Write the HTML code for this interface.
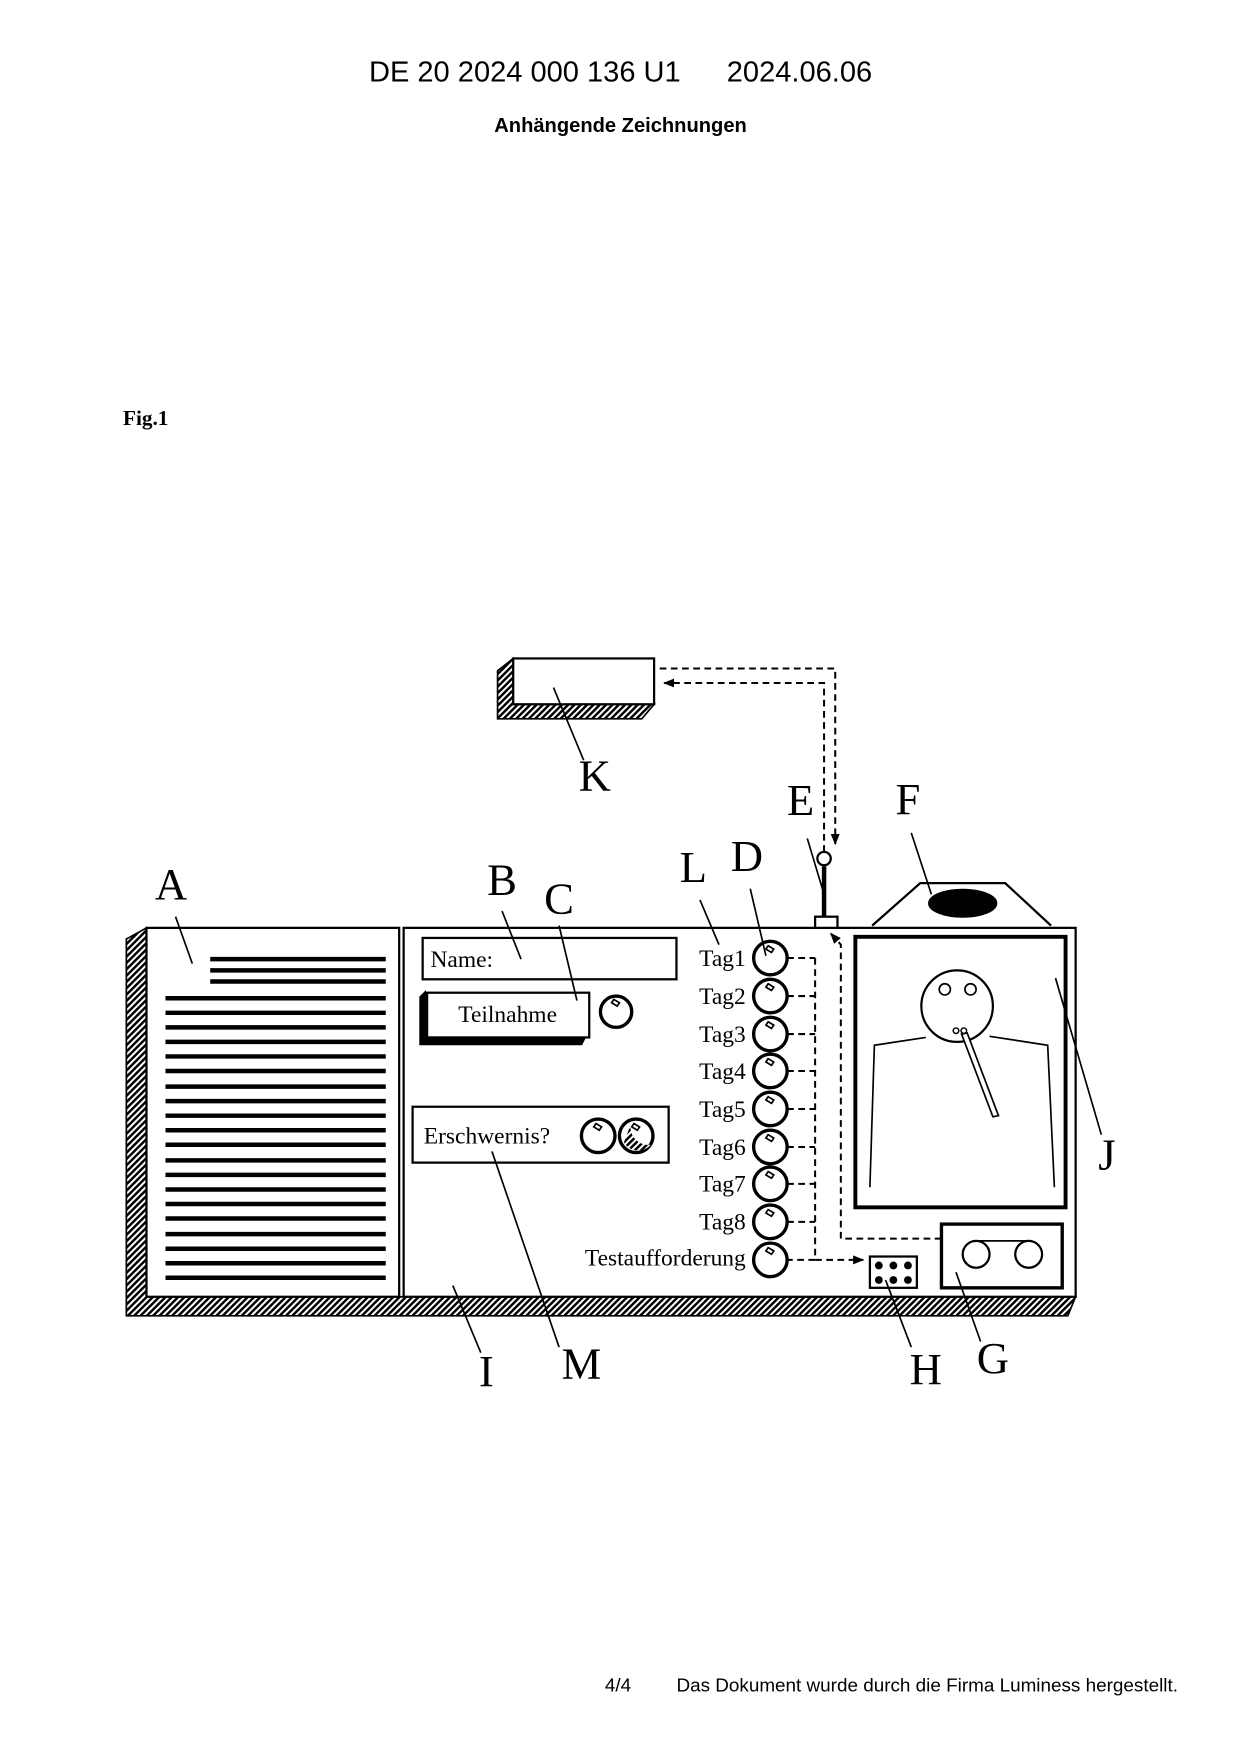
<!DOCTYPE html>
<html><head><meta charset="utf-8"><style>
html,body{margin:0;padding:0;background:#fff;width:1240px;height:1754px;overflow:hidden}
svg{display:block}
.s{font-family:"Liberation Serif",serif}
.a{font-family:"Liberation Sans",sans-serif}
</style></head><body>
<svg width="1240" height="1754" viewBox="0 0 1109 1569" preserveAspectRatio="none" xmlns="http://www.w3.org/2000/svg">
<defs>
<pattern id="h" width="4" height="4" patternUnits="userSpaceOnUse" patternTransform="rotate(45)">
<rect width="4" height="4" fill="#fff"/><rect width="2.2" height="4" fill="#000"/></pattern>
<marker id="ar" markerWidth="10" markerHeight="10" refX="9" refY="5" orient="auto" markerUnits="userSpaceOnUse"><path d="M0,1 L10,5 L0,9 Z" fill="#000"/></marker>
<g id="k"><path d="M-2,-11 L3,-8 L1,-5 L-4,-8 Z" fill="#fff" stroke="#000" stroke-width="1.5"/></g>
</defs>
<text x="330" y="73" class="a" font-size="26">DE 20 2024 000 136 U1</text>
<text x="650" y="73" class="a" font-size="26">2024.06.06</text>
<text x="555" y="118" text-anchor="middle" class="a" font-size="18" font-weight="bold">Anhängende Zeichnungen</text>
<text x="110" y="380" class="s" font-size="19" font-weight="bold">Fig.1</text>
<text x="541" y="1513" class="a" font-size="16.9">4/4</text>
<text x="605" y="1513" class="a" font-size="16.9">Das Dokument wurde durch die Firma Luminess hergestellt.</text>

<g stroke="#000" fill="none" stroke-width="2">
<polygon points="113,840 131,830 131,1160 962,1160 955,1177 113,1177" fill="url(#h)" stroke-width="1.5"/>
<rect x="131" y="830" width="226" height="330" fill="#fff"/>
<rect x="361" y="830" width="601" height="330" fill="#fff"/>
<g stroke-width="4">
<line x1="188" y1="858" x2="345" y2="858"/><line x1="188" y1="868" x2="345" y2="868"/><line x1="188" y1="878" x2="345" y2="878"/>
<line x1="148" y1="893" x2="345" y2="893"/><line x1="148" y1="906" x2="345" y2="906"/><line x1="148" y1="919" x2="345" y2="919"/><line x1="148" y1="932" x2="345" y2="932"/><line x1="148" y1="945" x2="345" y2="945"/><line x1="148" y1="958" x2="345" y2="958"/><line x1="148" y1="972" x2="345" y2="972"/><line x1="148" y1="985" x2="345" y2="985"/><line x1="148" y1="998" x2="345" y2="998"/><line x1="148" y1="1011" x2="345" y2="1011"/><line x1="148" y1="1024" x2="345" y2="1024"/><line x1="148" y1="1038" x2="345" y2="1038"/><line x1="148" y1="1051" x2="345" y2="1051"/><line x1="148" y1="1064" x2="345" y2="1064"/><line x1="148" y1="1077" x2="345" y2="1077"/><line x1="148" y1="1090" x2="345" y2="1090"/><line x1="148" y1="1104" x2="345" y2="1104"/><line x1="148" y1="1117" x2="345" y2="1117"/><line x1="148" y1="1130" x2="345" y2="1130"/><line x1="148" y1="1143" x2="345" y2="1143"/>
</g>
<rect x="378" y="839" width="227" height="37"/>
<polygon points="376,892 380,888 380,928 523,928 520,934 376,934" fill="#000"/>
<rect x="382" y="888" width="145" height="40" fill="#fff"/>
<circle cx="551" cy="905" r="14" stroke-width="3"/>
<use href="#k" x="551" y="905"/>
<rect x="369" y="990" width="229" height="50"/>
<circle cx="535" cy="1016" r="15" stroke-width="3"/>
<circle cx="569" cy="1016" r="15" stroke-width="3"/>
<path d="M558,1022 A15,15 0 0,0 582,1024 A16,16 0 0,1 564,1006 Z" fill="url(#h)" stroke="none"/>
<use href="#k" x="535" y="1016"/><use href="#k" x="569" y="1016"/>
<g stroke-width="3">
<circle cx="689" cy="857" r="15"/><circle cx="689" cy="891" r="15"/><circle cx="689" cy="925" r="15"/><circle cx="689" cy="958" r="15"/><circle cx="689" cy="992" r="15"/><circle cx="689" cy="1026" r="15"/><circle cx="689" cy="1059" r="15"/><circle cx="689" cy="1093" r="15"/><circle cx="689" cy="1127" r="15"/>
</g>
<use href="#k" x="689" y="857"/><use href="#k" x="689" y="891"/><use href="#k" x="689" y="925"/><use href="#k" x="689" y="958"/><use href="#k" x="689" y="992"/><use href="#k" x="689" y="1026"/><use href="#k" x="689" y="1059"/><use href="#k" x="689" y="1093"/><use href="#k" x="689" y="1127"/>
<g stroke-dasharray="6,4" stroke-width="1.8">
<line x1="704" y1="857" x2="729" y2="857"/><line x1="704" y1="891" x2="729" y2="891"/><line x1="704" y1="925" x2="729" y2="925"/><line x1="704" y1="958" x2="729" y2="958"/><line x1="704" y1="992" x2="729" y2="992"/><line x1="704" y1="1026" x2="729" y2="1026"/><line x1="704" y1="1059" x2="729" y2="1059"/><line x1="704" y1="1093" x2="729" y2="1093"/>
<polyline points="729,857 729,1127 704,1127"/>
<polyline points="729,1127 772,1127" marker-end="url(#ar)"/>
<polyline points="842,1108 752,1108 752,845 743,835" marker-end="url(#ar)"/>
<polyline points="590,598 747,598 747,755" marker-end="url(#ar)"/>
<polyline points="737,762 737,611 594,611" marker-end="url(#ar)"/>
</g>
<rect x="729" y="820" width="20" height="10" fill="#fff"/>
<line x1="737" y1="775" x2="737" y2="820" stroke-width="4"/>
<circle cx="737" cy="768" r="6" fill="#fff"/>
<polygon points="459,589 445,600 445,643 574,643 585,630 459,630" fill="url(#h)" stroke-width="1.5"/>
<rect x="459" y="589" width="126" height="41" fill="#fff"/>
<polyline points="780,828 823,790 899,790 940,828"/>
<ellipse cx="861" cy="808" rx="30" ry="12" fill="#000"/>
<rect x="765" y="838" width="188" height="242" stroke-width="3.5"/>
<circle cx="856" cy="900" r="32"/>
<circle cx="845" cy="885" r="5" stroke-width="1.5"/><circle cx="868" cy="885" r="5" stroke-width="1.5"/>
<circle cx="855" cy="922" r="2.5" stroke-width="1.3"/><circle cx="862" cy="922" r="2.5" stroke-width="1.3"/>
<polygon points="860,925 865,924 893,998 888,999" fill="#fff" stroke-width="1.5"/>
<polyline points="778,1062 782,935 828,928" stroke-width="1.5"/>
<polyline points="943,1062 937,935 885,927" stroke-width="1.5"/>
<rect x="842" y="1095" width="108" height="57" stroke-width="3"/>
<circle cx="873" cy="1122" r="12"/><circle cx="920" cy="1122" r="12"/>
<line x1="873" y1="1110" x2="920" y2="1110" stroke-width="1.5"/>
<rect x="778" y="1124" width="42" height="28"/>
<g fill="#000" stroke="none"><circle cx="786" cy="1132" r="3.5"/><circle cx="799" cy="1132" r="3.5"/><circle cx="812" cy="1132" r="3.5"/><circle cx="786" cy="1145" r="3.5"/><circle cx="799" cy="1145" r="3.5"/><circle cx="812" cy="1145" r="3.5"/></g>
<g stroke-width="1.5">
<line x1="157" y1="820" x2="172" y2="862"/><line x1="449" y1="815" x2="466" y2="858"/>
<line x1="500" y1="828" x2="516" y2="895"/><line x1="626" y1="805" x2="643" y2="845"/>
<line x1="671" y1="795" x2="685" y2="855"/><line x1="722" y1="750" x2="737" y2="800"/>
<line x1="815" y1="745" x2="833" y2="800"/><line x1="495" y1="615" x2="522" y2="680"/>
<line x1="944" y1="875" x2="985" y2="1015"/><line x1="405" y1="1150" x2="430" y2="1210"/>
<line x1="440" y1="1030" x2="500" y2="1205"/><line x1="792" y1="1145" x2="815" y2="1205"/>
<line x1="855" y1="1138" x2="877" y2="1200"/>
</g>
</g>
<g class="s" font-size="21" fill="#000">
<text x="385" y="865">Name:</text>
<text x="454" y="914" text-anchor="middle">Teilnahme</text>
<text x="379" y="1023">Erschwernis?</text>
<g text-anchor="end" font-size="21">
<text x="667" y="864">Tag1</text><text x="667" y="898">Tag2</text><text x="667" y="932">Tag3</text><text x="667" y="965">Tag4</text><text x="667" y="999">Tag5</text><text x="667" y="1033">Tag6</text><text x="667" y="1066">Tag7</text><text x="667" y="1100">Tag8</text><text x="667" y="1132">Testaufforderung</text>
</g>
</g>
<g class="s" font-size="40" fill="#000" text-anchor="middle">
<text x="153" y="804">A</text><text x="449" y="800">B</text><text x="500" y="817">C</text>
<text x="620" y="789">L</text><text x="668" y="779">D</text><text x="716" y="729">E</text>
<text x="812" y="728">F</text><text x="532" y="707">K</text><text x="990" y="1046">J</text>
<text x="435" y="1240">I</text><text x="520" y="1233">M</text><text x="828" y="1238">H</text>
<text x="888" y="1228">G</text>
</g>
</svg>
</body></html>
